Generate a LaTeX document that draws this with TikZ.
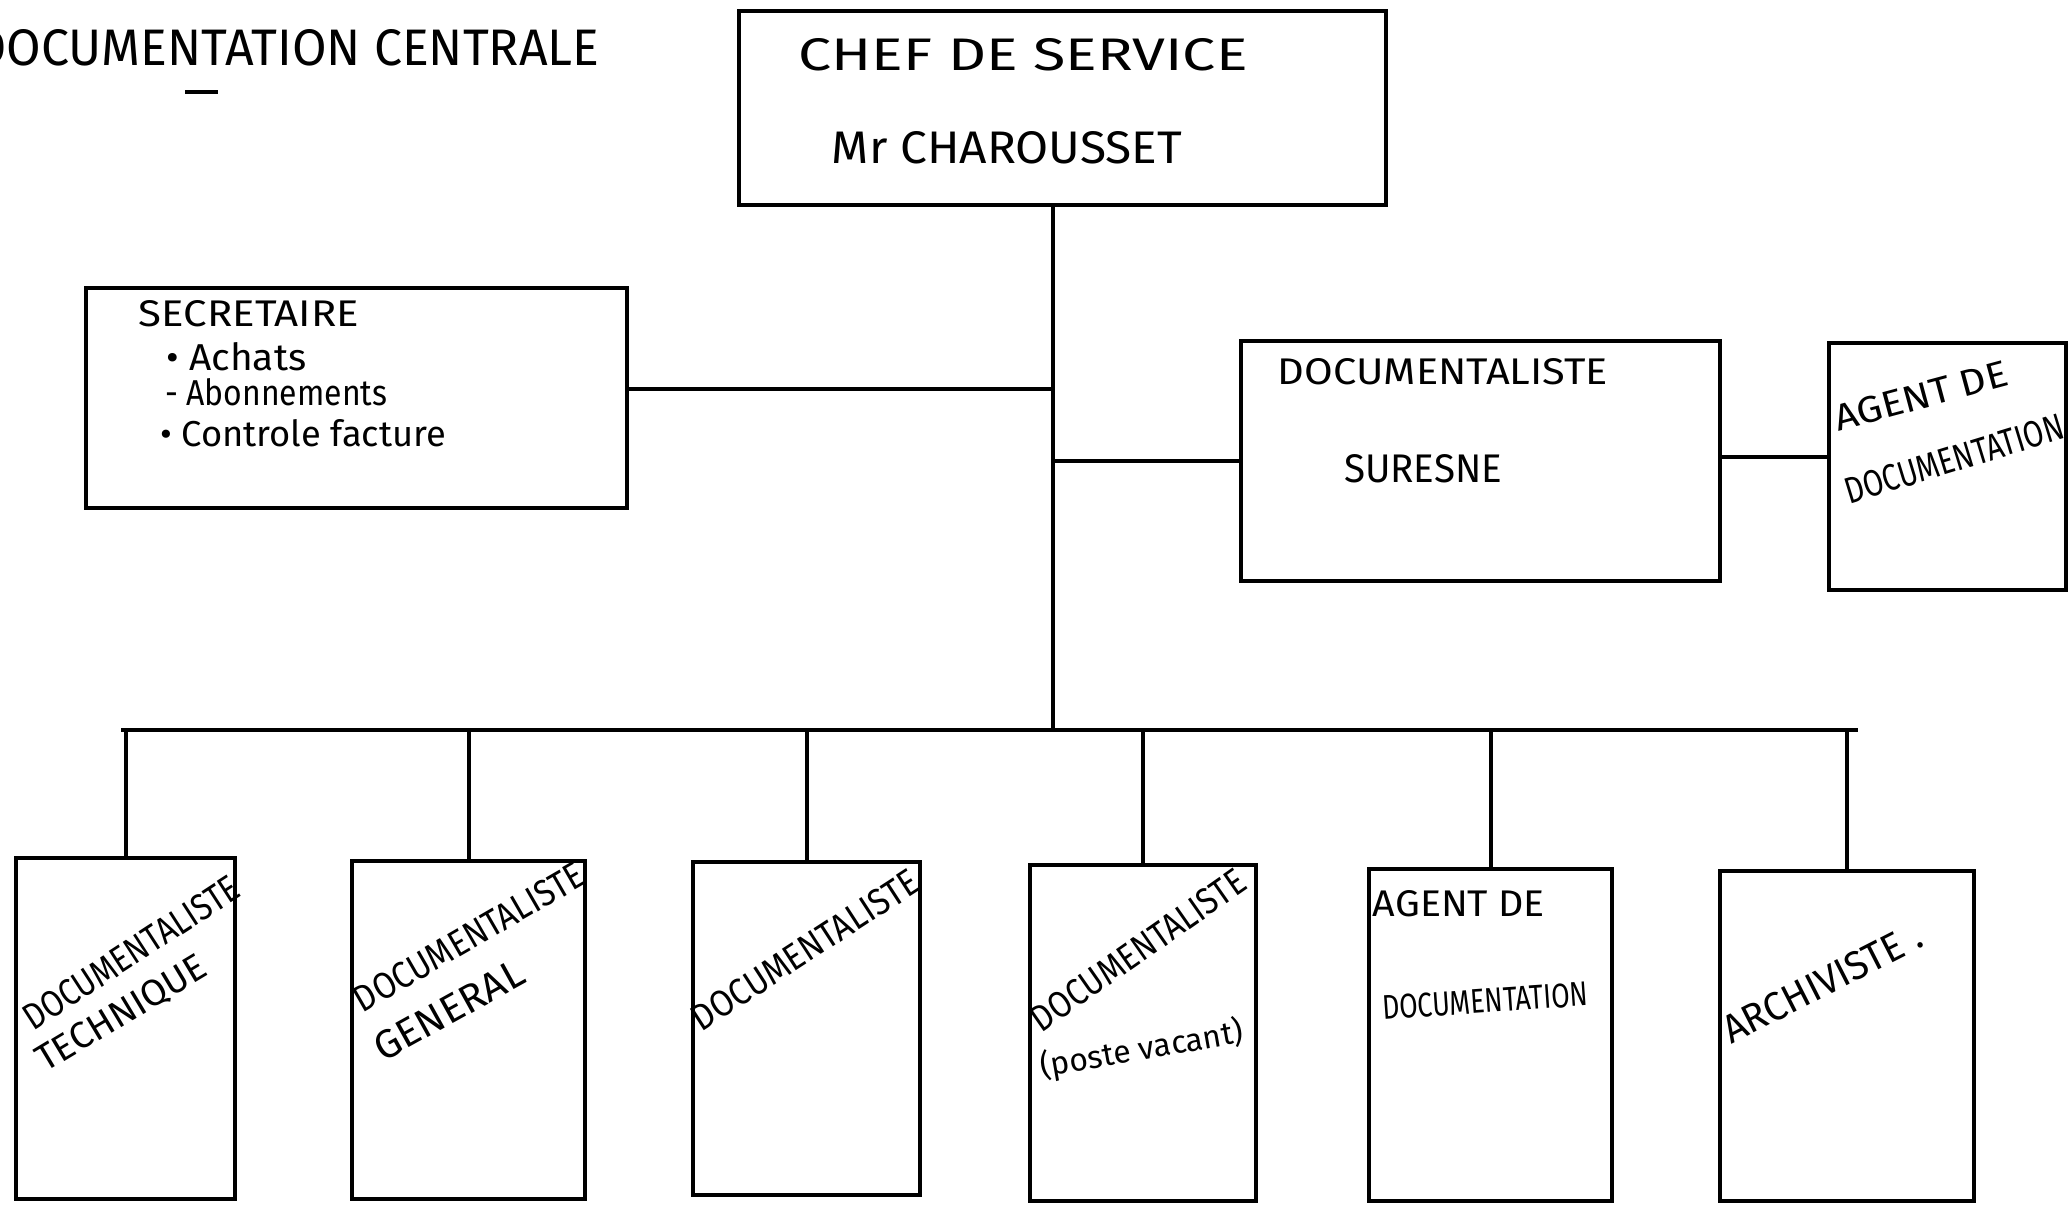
\documentclass[tikz,border=0pt]{standalone}
\usepackage{fontspec}
\setmainfont{Fira Sans}
\newcommand\fw[2]{\resizebox{#1pt}{!}{#2}}
\newcommand\fwh[3]{\resizebox{#1pt}{#2pt}{#3}}
\begin{document}
\begin{tikzpicture}[x=1pt,y=-1pt,
  box/.style={draw, line width=4.5pt, inner sep=0pt},
  conn/.style={line width=4pt},
  lbl/.style={inner sep=0pt, anchor=center}]
\useasboundingbox (0,0) rectangle (2070,1205);
% title
\node[lbl] (title) at (287,48) {\fwh{625}{36}{DOCUMENTATION CENTRALE}};
\coordinate (ulA) at (185,92);
\coordinate (ulB) at (218,92);
\draw[line width=4pt] (ulA) -- (ulB);
% boxes
\node[box, minimum width=647pt, minimum height=194pt] (chef) at (1062.5,108) {};
\node[box, minimum width=541pt, minimum height=220pt] (sec) at (356.5,398) {};
\node[box, minimum width=479pt, minimum height=240pt] (sur) at (1480.5,461) {};
\node[box, minimum width=237pt, minimum height=247pt] (agr) at (1947.5,466.5) {};
\node[box, minimum width=219pt, minimum height=341pt] (b1) at (125.5,1028.5) {};
\node[box, minimum width=233pt, minimum height=338pt] (b2) at (468.5,1030) {};
\node[box, minimum width=227pt, minimum height=333pt] (b3) at (806.5,1028.5) {};
\node[box, minimum width=226pt, minimum height=336pt] (b4) at (1143,1033) {};
\node[box, minimum width=243pt, minimum height=332pt] (b5) at (1490.5,1035) {};
\node[box, minimum width=254pt, minimum height=330pt] (b6) at (1847,1036) {};
% connectors
\coordinate (busJ) at (1053,730);
\coordinate (busL) at (121,730);
\coordinate (busR) at (1858,730);
\draw[conn] (busJ |- chef.south) -- (busJ);
\draw[conn] ([yshift=9pt]sec.east) -- ([yshift=9pt]sec.east -| busJ);
\draw[conn] (sur.west -| busJ) -- (sur.west);
\draw[conn] ([yshift=4pt]sur.east) -- ([yshift=4pt]sur.east -| agr.west);
\draw[conn] (busL) -- (busR);
\foreach \b in {b1,b2,b3,b4,b5,b6}
  \draw[conn] (\b.north) -- (\b.north |- busL);
% texts
\node[lbl] (t1) at (1023,55) {\fwh{449}{32}{CHEF DE SERVICE}};
\node[lbl] (t2) at (1007,148) {\fwh{350}{32}{Mr CHAROUSSET}};
\node[lbl] (t3) at (249,314) {\fwh{220}{26}{SECRETAIRE}};
\node[inner sep=0pt, anchor=west] (t4) at (166,357) {\fwh{140}{28}{• Achats}};
\node[inner sep=0pt, anchor=west] (t5) at (165,392) {\fwh{222}{27}{- Abonnements}};
\node[inner sep=0pt, anchor=west] (t6) at (160,433) {\fwh{286}{27}{• Controle facture}};
\node[lbl] (t7) at (1443,372) {\fwh{330}{26}{DOCUMENTALISTE}};
\node[lbl] (t8) at (1423,469) {\fwh{158}{28}{SURESNE}};
\node[lbl, rotate=15] (t9) at (1921,396) {\fwh{178}{26}{AGENT DE}};
\node[lbl, rotate=17] (t10) at (1954,459) {\fwh{227}{26}{DOCUMENTATION}};
\node[lbl, rotate=33] (t11) at (131,953) {\fwh{250}{26}{DOCUMENTALISTE}};
\node[lbl, rotate=31] (t12) at (122,1014) {\fwh{192}{26}{TECHNIQUE}};
\node[lbl, rotate=30] (t13) at (469,937) {\fwh{260}{26}{DOCUMENTALISTE}};
\node[lbl, rotate=29] (t14) at (449,1010) {\fwh{165}{28}{GENERAL}};
\node[lbl, rotate=33] (t15) at (805,950) {\fwh{263}{26}{DOCUMENTALISTE}};
\node[lbl, rotate=35] (t16) at (1138,950) {\fwh{253}{26}{DOCUMENTALISTE}};
\node[lbl, rotate=10] (t17) at (1142,1050) {\fw{205}{(poste vacant)}};
\node[lbl] (t18) at (1459,904) {\fwh{172}{26}{AGENT DE}};
\node[lbl, rotate=4] (t19) at (1485,1001) {\fwh{206}{24}{DOCUMENTATION}};
\node[lbl, rotate=27] (t20) at (1822,983) {\fwh{218}{28}{ARCHIVISTE .}};
\end{tikzpicture}
\end{document}
